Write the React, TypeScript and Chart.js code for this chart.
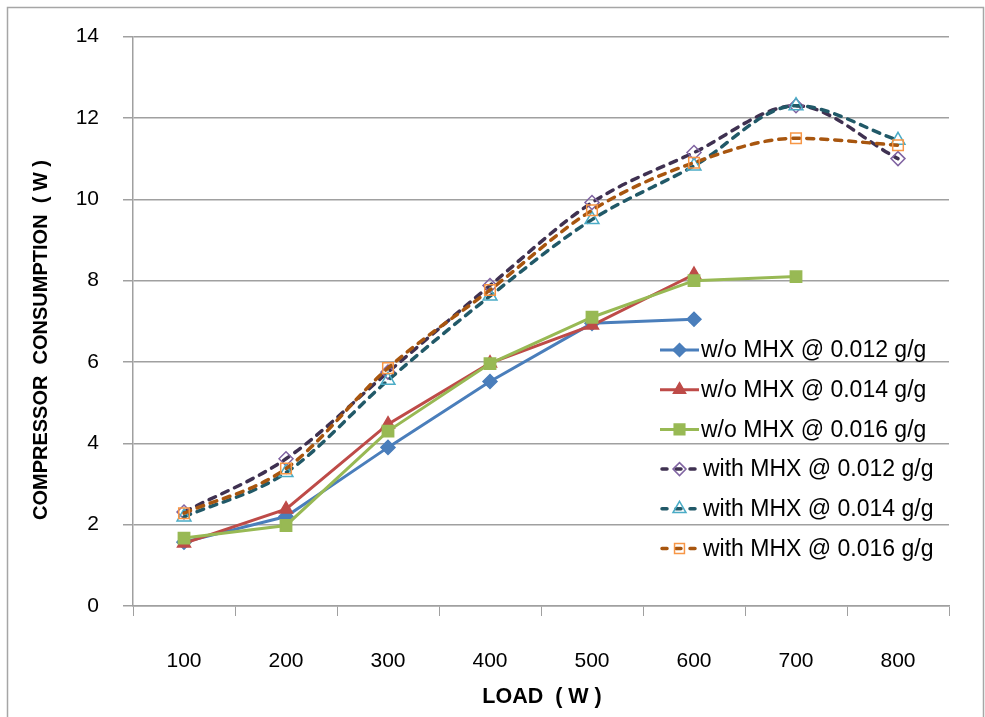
import React, { useEffect, useRef } from 'react';
import { Chart, registerables } from 'chart.js';

Chart.register(...registerables);

const loads = ['100', '200', '300', '400', '500', '600', '700', '800'];
const woMhx012 = [1.57, 2.2, 3.9, 5.52, 6.95, 7.05, null, null];
const woMhx014 = [1.54, 2.38, 4.47, 5.97, 6.9, 8.15, null, null];
const woMhx016 = [1.67, 1.98, 4.3, 5.96, 7.1, 8.0, 8.1, null];
const withMhx012 = [2.31, 3.62, 5.75, 7.88, 9.92, 11.15, 12.3, 11.0];
const withMhx014 = [2.19, 3.28, 5.55, 7.62, 9.5, 10.82, 12.3, 11.45];
const withMhx016 = [2.28, 3.38, 5.85, 7.77, 9.73, 10.9, 11.5, 11.33];
const seriesLabels = [
  'w/o MHX @ 0.012 g/g',
  'w/o MHX @ 0.014 g/g',
  'w/o MHX @ 0.016 g/g',
  'with MHX @ 0.012 g/g',
  'with MHX @ 0.014 g/g',
  'with MHX @ 0.016 g/g',
];
const yMin = 0;
const yMax = 14;
const yStep = 2;
const xTitle = 'LOAD  ( W )';
const yTitle = 'COMPRESSOR  CONSUMPTION  ( W )';

const FONT = '"Liberation Sans", Arial, sans-serif';
const GRID = '#a0a0a0';

type Style = { line: string; marker: string; fill: string; shape: string; r: number; dash: number[] };
const styles: Style[] = [
  { line: '#4A7EBB', marker: '#4A7EBB', fill: '#4A7EBB', shape: 'rectRot', r: 7, dash: [] },
  { line: '#BE4B48', marker: '#BE4B48', fill: '#BE4B48', shape: 'triangle', r: 7.5, dash: [] },
  { line: '#98B954', marker: '#98B954', fill: '#98B954', shape: 'rect', r: 8, dash: [] },
  { line: '#3F3151', marker: '#8064A2', fill: 'rgba(0,0,0,0)', shape: 'rectRot', r: 7, dash: [7, 7] },
  { line: '#215968', marker: '#4BACC6', fill: 'rgba(0,0,0,0)', shape: 'triangle', r: 8, dash: [7, 7] },
  { line: '#A8560F', marker: '#F79646', fill: 'rgba(0,0,0,0)', shape: 'rect', r: 7.5, dash: [7, 7] },
];

function drawMarker(ctx: CanvasRenderingContext2D, shape: string, x: number, y: number, r: number, fill: string, stroke: string) {
  ctx.save();
  ctx.setLineDash([]);
  ctx.beginPath();
  if (shape === 'rectRot') {
    ctx.moveTo(x, y - r);
    ctx.lineTo(x + r, y);
    ctx.lineTo(x, y + r);
    ctx.lineTo(x - r, y);
    ctx.closePath();
  } else if (shape === 'triangle') {
    let rad = 0;
    ctx.moveTo(x + Math.sin(rad) * r, y - Math.cos(rad) * r);
    rad += (2 * Math.PI) / 3;
    ctx.lineTo(x + Math.sin(rad) * r, y - Math.cos(rad) * r);
    rad += (2 * Math.PI) / 3;
    ctx.lineTo(x + Math.sin(rad) * r, y - Math.cos(rad) * r);
    ctx.closePath();
  } else {
    const s = r * Math.SQRT1_2;
    ctx.rect(x - s, y - s, 2 * s, 2 * s);
  }
  ctx.fillStyle = fill;
  ctx.fill();
  ctx.lineWidth = 1.5;
  ctx.strokeStyle = stroke;
  ctx.stroke();
  ctx.restore();
}

const decorPlugin = {
  id: 'decor',
  afterDraw(chart: any) {
    const ctx: CanvasRenderingContext2D = chart.ctx;
    const area = chart.chartArea;
    ctx.save();
    // outer frame
    ctx.strokeStyle = '#a6a6a6';
    ctx.lineWidth = 1.5;
    ctx.beginPath();
    ctx.moveTo(7.5, chart.height + 2);
    ctx.lineTo(7.5, 7.5);
    ctx.lineTo(983.5, 7.5);
    ctx.lineTo(983.5, chart.height + 2);
    ctx.stroke();

    // axis titles
    ctx.fillStyle = '#000';
    ctx.textAlign = 'center';
    ctx.textBaseline = 'middle';
    ctx.font = `bold 21.5px ${FONT}`;
    ctx.fillText(xTitle, (area.left + area.right) / 2 + 1, 697);
    ctx.save();
    ctx.translate(41, 340);
    ctx.rotate(-Math.PI / 2);
    ctx.font = `bold 20px ${FONT}`;
    ctx.fillText(yTitle, 0, 0);
    ctx.restore();

    // legend inside plot
    const lx0 = 660;
    const lx1 = 699;
    chart.data.datasets.forEach((ds: any, i: number) => {
      const st = styles[i];
      const y = 350 + i * 39.7;
      ctx.save();
      ctx.strokeStyle = st.line;
      ctx.lineWidth = st.dash.length ? 3.5 : 3;
      ctx.lineCap = st.dash.length ? 'round' : 'butt';
      ctx.setLineDash(st.dash.length ? [5, 9] : []);
      ctx.beginPath();
      ctx.moveTo(lx0 + (st.dash.length ? 2 : 0), y);
      ctx.lineTo(lx1, y);
      ctx.stroke();
      ctx.restore();
      drawMarker(ctx, st.shape, (lx0 + lx1) / 2, y, st.r - 0.5, st.fill, st.marker);
      ctx.fillStyle = '#000';
      ctx.textAlign = 'left';
      ctx.textBaseline = 'middle';
      ctx.font = `23px ${FONT}`;
      ctx.fillText(ds.label, i < 3 ? 701 : 703, y + 1);
    });
    ctx.restore();
  },
};

const seriesData = [woMhx012, woMhx014, woMhx016, withMhx012, withMhx014, withMhx016];

export default function App() {
  const ref = useRef<HTMLCanvasElement | null>(null);
  useEffect(() => {
    if (!ref.current) return;
    const chart = new Chart(ref.current, {
      type: 'line',
      data: {
        labels: loads,
        datasets: seriesData.map((d, i) => {
          const st = styles[i];
          const dashed = st.dash.length > 0;
          return {
            label: seriesLabels[i],
            data: d,
            borderColor: st.line,
            borderWidth: dashed ? 3.5 : 3,
            borderDash: st.dash,
            borderCapStyle: dashed ? 'round' : 'butt',
            cubicInterpolationMode: dashed ? 'monotone' : 'default',
            tension: dashed ? 0.4 : 0,
            pointStyle: st.shape,
            pointRadius: st.r,
            pointHoverRadius: st.r,
            pointBackgroundColor: st.fill,
            pointBorderColor: st.marker,
            pointBorderWidth: 1.5,
            fill: false,
            order: 6 - i,
            spanGaps: false,
          } as any;
        }),
      },
      options: {
        responsive: false,
        animation: false,
        devicePixelRatio: 1,
        layout: { padding: { left: 0, top: 35, right: 36, bottom: 0 } },
        plugins: {
          legend: { display: false },
          tooltip: { enabled: false },
          title: { display: false },
        },
        scales: {
          x: {
            type: 'category',
            offset: true,
            grid: {
              offset: true,
              drawOnChartArea: false,
              drawTicks: true,
              tickLength: 10,
              color: GRID,
            },
            border: { display: true, color: GRID, width: 1.5 },
            ticks: {
              color: '#000',
              font: { family: FONT, size: 21 },
              padding: 33,
              maxRotation: 0,
              autoSkip: false,
            },
            afterFit: (scale: any) => {
              scale.height = 111;
            },
          },
          y: {
            min: yMin,
            max: yMax,
            grid: { color: GRID, lineWidth: 1.5, tickLength: 10, drawTicks: true },
            border: { display: true, color: GRID, width: 1.5 },
            ticks: {
              stepSize: yStep,
              color: '#000',
              font: { family: FONT, size: 21 },
              padding: 24,
            },
            afterFit: (scale: any) => {
              scale.width = 133;
            },
          },
        },
      },
      plugins: [decorPlugin],
    } as any);
    return () => chart.destroy();
  }, []);
  return (
    <div style={{ position: 'absolute', left: 0, top: 0, width: 985, height: 717, background: '#fff' }}>
      <canvas ref={ref} width={985} height={717} style={{ width: 985, height: 717, display: 'block' }} />
    </div>
  );
}
